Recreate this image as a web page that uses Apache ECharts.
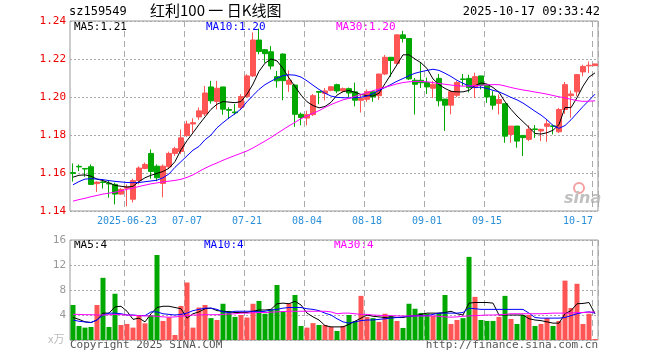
<!DOCTYPE html>
<html><head><meta charset="utf-8">
<script src="https://cdn.jsdelivr.net/npm/echarts@6/dist/echarts.min.js"></script>
<style>html,body{margin:0;padding:0;background:#fff}#c{width:660px;height:360px}</style>
</head><body><div id="c"></div>
<script>
const dates = ['06-10','06-11','06-12','06-13','06-16','06-17','06-18','06-19','06-20','06-23','06-24','06-25','06-26','06-27','06-30',
'07-01','07-02','07-03','07-04','07-07','07-08','07-09','07-10','07-11','07-14','07-15','07-16','07-17','07-18','07-21','07-22','07-23','07-24','07-25','07-28','07-29','07-30','07-31',
'08-01','08-04','08-05','08-06','08-07','08-08','08-11','08-12','08-13','08-14','08-15','08-18','08-19','08-20','08-21','08-22','08-25','08-26','08-27','08-28','08-29',
'09-01','09-02','09-03','09-04','09-05','09-08','09-09','09-10','09-11','09-12','09-15','09-16','09-17','09-18','09-19','09-22','09-23','09-24','09-25','09-26','09-29','09-30',
'10-09','10-10','10-13','10-14','10-15','10-16','10-17'];
const tickDates = ['06-23','07-07','07-21','08-04','08-18','09-01','09-15','10-17'];
const priceTicks = [1.14, 1.24, 0.02];
const volTicks = [0, 16, 4];
// [open, close, low, high]
const ohlc = [
[1.1602,1.1598,1.1555,1.1650],[1.1635,1.1632,1.1610,1.1645],[1.1624,1.1621,1.1580,1.1626],[1.1633,1.1540,1.1540,1.1645],
[1.1544,1.1552,1.1500,1.1556],[1.1553,1.1550,1.1518,1.1566],[1.1546,1.1542,1.1470,1.1560],[1.1540,1.1489,1.1435,1.1549],
[1.1489,1.1514,1.1485,1.1520],[1.1520,1.1526,1.1425,1.1540],[1.1462,1.1560,1.1445,1.1570],[1.1560,1.1626,1.1540,1.1635],
[1.1624,1.1645,1.1620,1.1655],[1.1703,1.1608,1.1570,1.1724],[1.1636,1.1575,1.1557,1.1645],[1.1545,1.1636,1.1472,1.1645],
[1.1633,1.1703,1.1625,1.1712],[1.1703,1.1728,1.1690,1.1738],[1.1713,1.1785,1.1700,1.1829],[1.1797,1.1858,1.1790,1.1875],
[1.1858,1.1865,1.1812,1.1888],[1.1895,1.1927,1.1880,1.1945],[1.1911,1.2021,1.1900,1.2058],[1.2053,1.1980,1.1965,1.2085],
[1.1976,1.2046,1.1935,1.2085],[1.2053,1.1936,1.1907,1.2053],[1.1934,1.1930,1.1884,1.1946],[1.1921,1.1917,1.1907,1.1963],
[1.1945,1.2002,1.1935,1.2015],[1.2002,1.2111,1.1995,1.2120],[1.2111,1.2300,1.2105,1.2340],[1.2300,1.2239,1.2225,1.2360],
[1.2249,1.2228,1.2180,1.2252],[1.2238,1.2163,1.2145,1.2268],[1.2107,1.2085,1.2049,1.2137],[1.2226,1.2086,1.1983,1.2230],
[1.2067,1.2088,1.2027,1.2140],[1.2063,1.1909,1.1843,1.2065],[1.1909,1.1892,1.1851,1.1918],[1.1889,1.1907,1.1851,1.1927],
[1.1907,1.2007,1.1900,1.2016],[1.2029,1.2025,1.1962,1.2030],[1.2019,1.2032,1.1982,1.2047],[1.2035,1.2054,1.2030,1.2058],
[1.2065,1.2032,1.2020,1.2070],[1.2032,1.2044,1.2025,1.2050],[1.2044,1.2021,1.1998,1.2050],[1.2027,1.1983,1.1951,1.2076],
[1.1983,1.1992,1.1918,1.2016],[1.1988,1.2028,1.1975,1.2040],[1.2027,1.2001,1.1975,1.2032],[1.2007,1.2121,1.1985,1.2121],
[1.2121,1.2209,1.2115,1.2221],[1.2209,1.2192,1.2106,1.2209],[1.2177,1.2327,1.2170,1.2330],[1.2327,1.2308,1.2287,1.2348],
[1.2308,1.2095,1.2090,1.2308],[1.2088,1.2067,1.1908,1.2100],[1.2088,1.2075,1.2048,1.2180],[1.2076,1.2053,1.2016,1.2102],
[1.2046,1.2067,1.1995,1.2085],[1.2098,1.1980,1.1951,1.2121],[1.1989,1.1957,1.1822,1.1989],[1.1957,1.2028,1.1909,1.2035],
[1.2009,1.2076,1.2000,1.2085],[1.2095,1.2092,1.2059,1.2121],[1.2098,1.2049,1.2024,1.2117],[1.2049,1.2107,1.1995,1.2128],
[1.2111,1.2062,1.2040,1.2111],[1.2062,1.2000,1.1969,1.2062],[1.2005,1.1957,1.1934,1.2031],[1.1966,1.1987,1.1908,1.2013],
[1.1965,1.1794,1.1759,1.1965],[1.1803,1.1847,1.1759,1.1847],[1.1847,1.1768,1.1733,1.1847],[1.1798,1.1786,1.1689,1.1798],
[1.1777,1.1830,1.1768,1.1851],[1.1832,1.1829,1.1785,1.1852],[1.1821,1.1830,1.1768,1.1832],[1.1846,1.1859,1.1764,1.1882],
[1.1848,1.1845,1.1803,1.1855],[1.1817,1.1934,1.1810,1.1943],[1.1934,1.2065,1.1911,1.2079],[1.2007,1.2016,1.1891,1.2034],
[1.2027,1.2118,1.2004,1.2118],[1.2132,1.2161,1.2109,1.2170],[1.2164,1.2167,1.2126,1.2187],[1.2165,1.2174,1.2165,1.2175]];
const ma5 = [1.1578,1.1588,1.1590,1.1583,1.1568,1.1560,1.1548,1.1535,1.1530,1.1526,1.1530,1.1555,1.1575,1.1588,1.1598,1.1608,1.1625,1.1660,1.1722,1.1770,
1.1812,1.1855,1.1895,1.1935,1.1962,1.1976,1.1973,1.1970,1.1976,1.2015,1.2068,1.2135,1.2178,1.2200,1.2190,1.2150,1.2100,1.2055,1.2010,1.1975,
1.1955,1.1943,1.1950,1.1972,1.2010,1.2028,1.2034,1.2025,1.2013,1.2007,1.2005,1.2020,1.2070,1.2120,1.2170,1.2222,1.2222,1.2200,1.2180,1.2150,
1.2095,1.2065,1.2045,1.2030,1.2027,1.2027,1.2035,1.2060,1.2074,1.2068,1.2050,1.2025,1.1975,1.1935,1.1900,1.1870,1.1840,1.1808,1.1805,1.1812,
1.1825,1.1855,1.1945,1.1944,1.1996,1.2057,1.2105,1.2127];
const ma10 = [1.1538,1.1555,1.1568,1.1570,1.1568,1.1565,1.1560,1.1556,1.1553,1.1550,1.1549,1.1550,1.1554,1.1558,1.1562,1.1575,1.1595,1.1630,1.1660,1.1690,
1.1720,1.1740,1.1775,1.1800,1.1838,1.1865,1.1890,1.1912,1.1937,1.1975,1.2008,1.2040,1.2065,1.2083,1.2100,1.2112,1.2117,1.2115,1.2105,1.2085,
1.2062,1.2040,1.2020,1.2005,1.1998,1.1996,1.1995,1.1996,1.1999,1.2005,1.2018,1.2035,1.2050,1.2066,1.2083,1.2097,1.2112,1.2125,1.2133,1.2140,
1.2146,1.2140,1.2125,1.2108,1.2088,1.2072,1.2058,1.2050,1.2052,1.2045,1.2035,1.2027,1.2013,1.1998,1.1985,1.1968,1.1947,1.1925,1.1905,1.1880,
1.1850,1.1835,1.1850,1.1880,1.1915,1.1950,1.1982,1.2015];
const ma30 = [1.1452,1.1460,1.1467,1.1475,1.1482,1.1489,1.1494,1.1499,1.1506,1.1514,1.1521,1.1529,1.1536,1.1543,1.1548,1.1553,1.1557,1.1561,1.1567,1.1577,
1.1590,1.1608,1.1625,1.1640,1.1653,1.1667,1.1680,1.1692,1.1704,1.1716,1.1732,1.1750,1.1768,1.1787,1.1808,1.1828,1.1848,1.1867,1.1886,1.1900,
1.1914,1.1928,1.1945,1.1960,1.1973,1.1985,1.1993,1.2003,1.2013,1.2023,1.2033,1.2042,1.2051,1.2060,1.2069,1.2076,1.2080,1.2082,1.2082,1.2080,
1.2076,1.2071,1.2067,1.2063,1.2059,1.2057,1.2058,1.2060,1.2062,1.2064,1.2065,1.2065,1.2058,1.2050,1.2043,1.2037,1.2032,1.2026,1.2021,1.2015,
1.2008,1.2001,1.1995,1.1988,1.1981,1.1977,1.1978,1.1980];
const vol = [5.6,2.25,1.98,2.09,5.6,9.95,2.09,7.4,2.4,2.57,1.98,3.96,2.67,3.96,13.6,3.05,3.64,0.8,5.45,9.2,
1.98,5.2,5.6,3.5,3.2,5.8,4.65,3.7,4.0,3.6,5.8,6.25,4.2,4.9,8.8,4.6,5.8,7.2,2.25,1.98,
2.7,2.4,2.4,2.09,1.44,2.25,4.0,3.05,7.06,3.7,3.5,2.9,4.2,3.85,3.05,1.93,5.8,5.0,4.33,4.2,
3.85,4.33,7.2,2.57,3.2,3.5,13.3,6.9,3.2,3.05,3.05,3.7,7.06,3.37,2.57,4.0,4.0,2.25,2.57,3.5,
2.25,3.05,9.5,5.13,9.0,2.57,4.2,0.16];
const vma5 = [3.6,3.3,2.9,2.8,3.2,4.3,4.3,5.3,5.4,4.6,3.3,3.5,2.9,4.2,5.2,5.4,5.4,5.2,5.0,3.5,
4.2,4.5,5.0,5.1,4.7,4.6,4.5,4.4,4.4,4.4,4.6,4.8,4.8,4.9,5.8,5.9,5.8,6.2,5.6,4.3,
3.7,3.2,2.3,2.1,2.1,2.1,2.5,3.0,3.5,4.0,3.8,3.7,3.6,3.7,3.6,3.6,3.8,3.9,4.1,4.3,
4.3,4.3,4.4,4.6,4.2,4.0,5.9,6.0,6.0,6.0,5.9,4.0,4.0,4.0,4.0,4.0,3.4,3.2,3.1,2.9,
2.7,2.7,4.2,4.7,5.8,5.85,6.0,4.2];
const vma10 = [3.2,3.0,2.9,2.8,3.2,4.0,4.3,4.3,4.2,4.0,4.0,3.9,3.9,4.5,4.5,4.2,4.1,4.0,4.1,4.3,
4.7,4.9,5.1,5.1,4.9,4.5,4.4,4.6,4.6,4.6,4.6,4.5,4.6,4.8,4.9,5.1,5.2,5.2,5.2,5.0,
4.9,4.7,4.3,4.0,3.4,2.9,2.7,2.9,3.1,3.2,3.2,3.3,3.4,3.5,3.6,3.7,3.8,3.85,3.9,3.9,
4.1,4.3,4.3,4.3,4.3,4.4,5.1,5.0,4.9,4.9,4.9,4.9,4.9,4.9,4.9,4.9,4.3,3.6,3.5,3.5,
3.5,3.5,3.6,3.9,4.2,4.4,4.5,4.3];
const vma30 = [4.1,4.1,4.05,4.05,4.0,4.0,4.05,4.1,4.05,4.0,3.95,3.9,3.85,3.85,3.8,3.7,3.65,3.7,3.8,3.9,
4.0,4.0,4.05,4.05,4.05,4.1,4.15,4.2,4.3,4.3,4.35,4.4,4.4,4.45,4.5,4.55,4.6,4.6,4.6,4.6,
4.6,4.6,4.6,4.5,4.2,4.3,4.3,4.2,4.1,4.1,4.0,3.95,3.9,3.9,3.85,3.85,3.85,3.85,3.85,3.85,
3.85,3.8,3.7,3.65,3.7,3.8,3.85,3.9,3.95,4.0,4.0,4.05,4.1,4.2,4.2,4.2,4.2,4.2,4.2,4.25,
4.3,4.3,4.3,4.3,4.4,4.4,4.45,4.5];

const UP = '#ff5555', DOWN = '#00a800';
const MONO = 'DejaVu Sans Mono';
const chart = echarts.init(document.getElementById('c'), null, {renderer: 'canvas'});
const showTick = (i) => tickDates.indexOf(dates[i]) >= 0;
const volData = vol.map((v, i) => ({value: v, itemStyle: {color: ohlc[i][1] >= ohlc[i][0] ? UP : DOWN}}));
const lastIdx = dates.length - 1;

const baseX = {
  type: 'category', data: dates, boundaryGap: true,
  axisLine: {show: false}, axisTick: {show: false},
  splitLine: {show: true, interval: showTick, lineStyle: {color: '#aaaaaa', type: [6, 4], width: 1}}
};
chart.setOption({
  animation: false,
  backgroundColor: '#ffffff',
  grid: [
    {left: 70, top: 21, width: 528, height: 190, show: true, borderColor: '#999999', borderWidth: 1},
    {left: 70, top: 240, width: 528, height: 100, show: true, borderColor: '#999999', borderWidth: 1}
  ],
  xAxis: [
    Object.assign({}, baseX, {gridIndex: 0, axisLabel: {show: true, interval: showTick, margin: 5,
      color: '#2a8fd8', fontFamily: MONO, fontSize: 10,
      formatter: (v, i) => i === 9 ? '2025-' + v : (i === lastIdx ? '{r|' + v + '}' : v),
      rich: {r: {color: '#2a8fd8', fontFamily: MONO, fontSize: 10, padding: [0, 34, 0, 0]}}}}),
    Object.assign({}, baseX, {gridIndex: 1, axisLabel: {show: false}})
  ],
  yAxis: [
    {gridIndex: 0, type: 'value', min: priceTicks[0], max: priceTicks[1], interval: priceTicks[2],
     axisLine: {show: false}, axisTick: {show: false},
     axisLabel: {color: '#ee0000', fontFamily: MONO, fontSize: 11, margin: 4, formatter: v => v.toFixed(2)},
     splitLine: {show: true, lineStyle: {color: '#aaaaaa', type: [2, 2], width: 1}}},
    {gridIndex: 1, type: 'value', min: volTicks[0], max: volTicks[1], interval: volTicks[2],
     axisLine: {show: false}, axisTick: {show: false},
     axisLabel: {color: '#999999', fontFamily: MONO, fontSize: 11, margin: 4, formatter: v => v === 0 ? '' : String(v)},
     splitLine: {show: true, lineStyle: {color: '#aaaaaa', type: [2, 2], width: 1}}}
  ],
  series: [
    {type: 'candlestick', xAxisIndex: 0, yAxisIndex: 0, data: ohlc, barWidth: 5,
     itemStyle: {color: UP, color0: DOWN, borderColor: UP, borderColor0: DOWN, borderWidth: 1}},
    {type: 'line', xAxisIndex: 0, yAxisIndex: 0, data: ma5, symbol: 'none', lineStyle: {color: '#000000', width: 1}},
    {type: 'line', xAxisIndex: 0, yAxisIndex: 0, data: ma10, symbol: 'none', lineStyle: {color: '#0000ff', width: 1}},
    {type: 'line', xAxisIndex: 0, yAxisIndex: 0, data: ma30, symbol: 'none', lineStyle: {color: '#ff00ff', width: 1}},
    {type: 'bar', xAxisIndex: 1, yAxisIndex: 1, data: volData, barWidth: 5},
    {type: 'line', xAxisIndex: 1, yAxisIndex: 1, data: vma5, symbol: 'none', lineStyle: {color: '#000000', width: 1}},
    {type: 'line', xAxisIndex: 1, yAxisIndex: 1, data: vma10, symbol: 'none', lineStyle: {color: '#0000ff', width: 1}},
    {type: 'line', xAxisIndex: 1, yAxisIndex: 1, data: vma30, symbol: 'none', lineStyle: {color: '#ff00ff', width: 1}}
  ],
  graphic: [
    {type: 'text', left: 69, top: 6, style: {text: 'sz159549', fill: '#000', font: '12px ' + MONO}},
    {type: 'text', left: 150, top: 3, style: {text: '红利100 一 日K线图', fill: '#000', font: '15px "Noto Sans CJK SC"'}},
    {type: 'text', right: 60, top: 6, style: {text: '2025-10-17 09:33:42', fill: '#000', font: '12px ' + MONO}},
    {type: 'text', left: 74, top: 22, style: {text: 'MA5:1.21', fill: '#000000', font: '11px ' + MONO}},
    {type: 'text', left: 206, top: 22, style: {text: 'MA10:1.20', fill: '#0000ff', font: '11px ' + MONO}},
    {type: 'text', left: 336, top: 22, style: {text: 'MA30:1.20', fill: '#ff00ff', font: '11px ' + MONO}},
    {type: 'text', left: 74, top: 240, style: {text: 'MA5:4', fill: '#000000', font: '11px ' + MONO}},
    {type: 'text', left: 204, top: 240, style: {text: 'MA10:4', fill: '#0000ff', font: '11px ' + MONO}},
    {type: 'text', left: 334, top: 240, style: {text: 'MA30:4', fill: '#ff00ff', font: '11px ' + MONO}},
    {type: 'text', left: 48, top: 333, style: {text: 'x万', fill: '#bbbbbb', font: '11px "Noto Sans CJK SC"'}},
    {type: 'text', left: 70, top: 340, style: {text: 'Copyright 2025 SINA.COM', fill: '#555555', font: '11px ' + MONO}},
    {type: 'text', right: 62, top: 340, style: {text: 'http://finance.sina.com.cn', fill: '#555555', font: '11px ' + MONO}},
    {type: 'circle', shape: {cx: 579, cy: 188, r: 5}, style: {fill: 'none', stroke: '#f4a0a0', lineWidth: 2}},
    {type: 'text', left: 564, top: 191, style: {text: 'sina', fill: '#c0c0c0', font: 'italic bold 16px "DejaVu Sans"'}}
  ]
});
</script></body></html>
